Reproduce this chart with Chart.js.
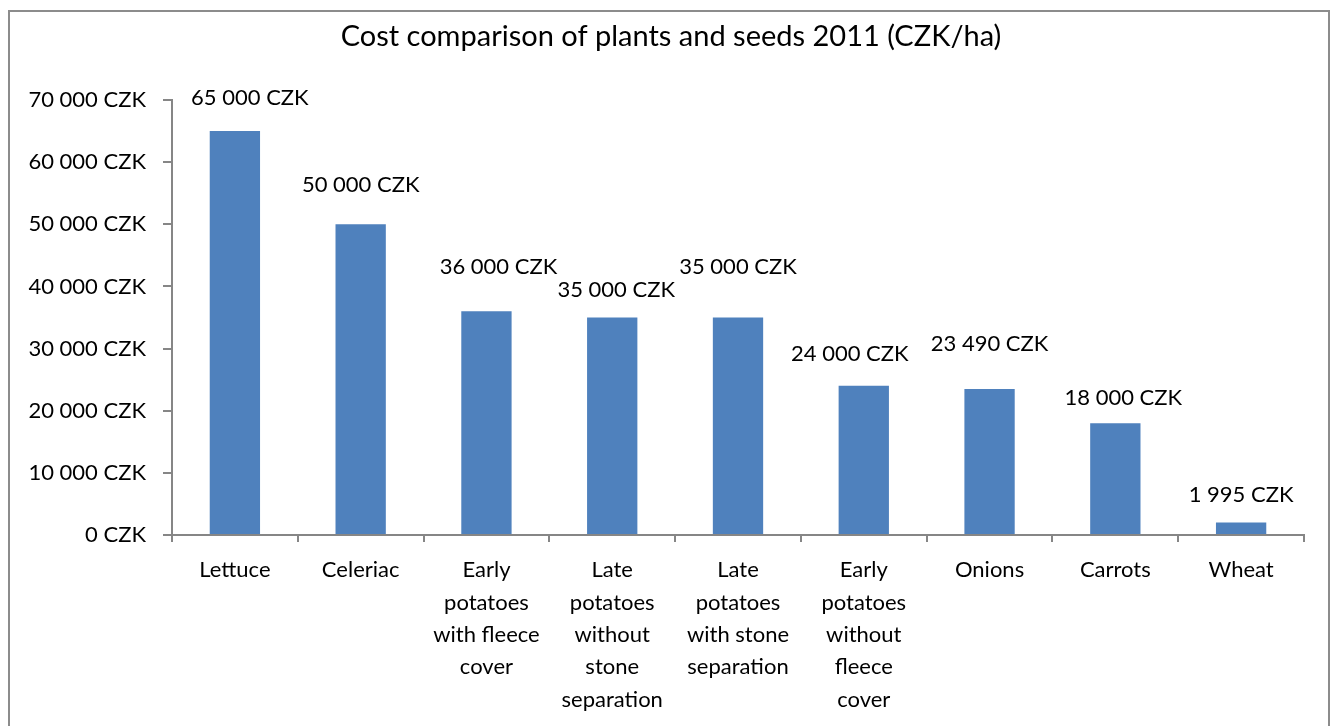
<!DOCTYPE html>
<html>
<head>
<meta charset="utf-8">
<script src="https://cdn.jsdelivr.net/npm/chart.js@4"></script>
<style>
  html,body{margin:0;padding:0;background:#fff;}
  #wrap{position:absolute;left:0;top:0;width:1336px;height:726px;}
  #frame{position:absolute;left:8px;top:10px;width:1322px;height:730px;border:2px solid #8c8c8c;box-sizing:border-box;}
  canvas{position:absolute;left:0;top:0;}
</style>
</head>
<body>
<div id="wrap">
  <div id="frame"></div>
  <canvas id="c" width="1336" height="726"></canvas>
</div>
<script>
const TITLE = "Cost comparison of plants and seeds 2011 (CZK/ha)";
const categories = [
  ["Lettuce"],
  ["Celeriac"],
  ["Early", "potatoes", "with fleece", "cover"],
  ["Late", "potatoes", "without", "stone", "separation"],
  ["Late", "potatoes", "with stone", "separation"],
  ["Early", "potatoes", "without", "fleece", "cover"],
  ["Onions"],
  ["Carrots"],
  ["Wheat"]
];
const costs = [65000, 50000, 36000, 35000, 35000, 24000, 23490, 18000, 1995];
const yTicks = [0, 10000, 20000, 30000, 40000, 50000, 60000, 70000];

function fmt(n) {
  return String(n).replace(/\B(?=(\d{3})+(?!\d))/g, " ") + " CZK";
}

const FONT = "Lato, 'Open Sans', sans-serif";
// label nudges (px) as placed in the original, relative to each bar top
const labelDX = [15, 0, 12, 4, 0, -14, 0, 8, 0];
const labelDY = [33, 39, 44, 28, 51, 32, 45, 25, 28];

const titlePlugin = {
  id: "centerTitle",
  afterDraw(chart) {
    const ctx = chart.ctx;
    ctx.save();
    ctx.font = "29px " + FONT;
    ctx.fillStyle = "#000";
    ctx.textAlign = "center";
    ctx.textBaseline = "middle";
    ctx.fillText(TITLE, chart.width / 2 + 3, 37);
    ctx.restore();
  }
};

const dataLabels = {
  id: "dataLabels",
  afterDatasetsDraw(chart) {
    const ctx = chart.ctx;
    const meta = chart.getDatasetMeta(0);
    ctx.save();
    ctx.font = "22px " + FONT;
    ctx.fillStyle = "#000";
    ctx.textAlign = "center";
    ctx.textBaseline = "middle";
    meta.data.forEach((bar, i) => {
      const v = chart.data.datasets[0].data[i];
      ctx.fillText(fmt(v), bar.x + labelDX[i], bar.y - labelDY[i]);
    });
    ctx.restore();
  }
};

new Chart(document.getElementById("c"), {
  type: "bar",
  data: {
    labels: categories,
    datasets: [{
      data: costs,
      backgroundColor: "#4F81BD",
      borderWidth: 0,
      categoryPercentage: 1.0,
      barPercentage: 0.4
    }]
  },
  options: {
    responsive: false,
    animation: false,
    devicePixelRatio: 1,
    layout: { padding: { left: 0, right: 32, top: 100, bottom: 0 } },
    plugins: {
      legend: { display: false },
      tooltip: { enabled: false },
      title: { display: false }
    },
    scales: {
      x: {
        grid: {
          display: true,
          drawOnChartArea: false,
          drawTicks: true,
          tickLength: 7,
          color: "#868686",
          lineWidth: 2
        },
        border: { display: true, color: "#868686", width: 2 },
        ticks: {
          color: "#000",
          font: { family: FONT, size: 22, lineHeight: 1.47 },
          padding: 12,
          maxRotation: 0,
          autoSkip: false
        },
        afterFit(scale) { scale.height = 191; }
      },
      y: {
        min: 0,
        max: 70000,
        afterBuildTicks(scale) { scale.ticks = yTicks.map(v => ({ value: v })); },
        grid: {
          display: true,
          drawOnChartArea: false,
          drawTicks: true,
          tickLength: 9,
          color: "#868686",
          lineWidth: 2
        },
        border: { display: true, color: "#868686", width: 2 },
        ticks: {
          color: "#000",
          font: { family: FONT, size: 22 },
          padding: 17,
          callback: (v) => fmt(v)
        },
        afterFit(scale) { scale.width = 172; }
      }
    }
  },
  plugins: [dataLabels, titlePlugin]
});
</script>
</body>
</html>
